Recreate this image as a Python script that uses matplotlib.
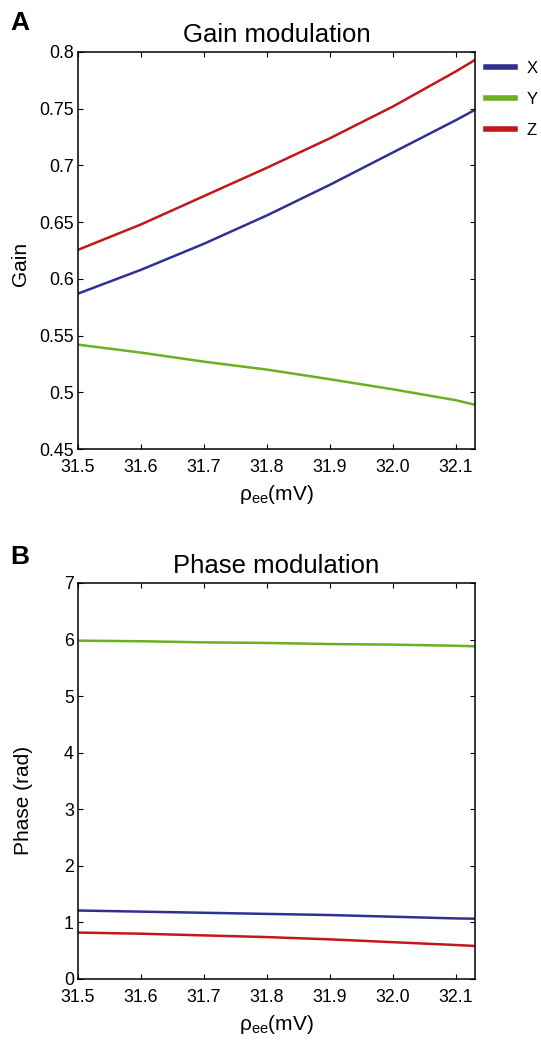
import matplotlib.pyplot as plt

plt.rcParams['font.family'] = ['Liberation Sans', 'DejaVu Sans']

# Data
rho = [31.5, 31.6, 31.7, 31.8, 31.9, 32.0, 32.1, 32.13]
gain_x = [0.587, 0.608, 0.631, 0.656, 0.683, 0.7115, 0.740, 0.749]
gain_y = [0.542, 0.535, 0.527, 0.520, 0.5115, 0.5026, 0.493, 0.489]
gain_z = [0.6256, 0.648, 0.673, 0.698, 0.724, 0.752, 0.783, 0.793]
phase_x = [1.21, 1.19, 1.17, 1.15, 1.13, 1.10, 1.07, 1.065]
phase_y = [5.98, 5.97, 5.95, 5.94, 5.92, 5.91, 5.89, 5.88]
phase_z = [0.82, 0.80, 0.77, 0.74, 0.70, 0.65, 0.60, 0.583]

labels = ['X', 'Y', 'Z']
colors = ['#2e3192', '#6ab023', '#c4161c']

xticks = [31.5, 31.6, 31.7, 31.8, 31.9, 32.0, 32.1]
gain_ticks = [0.45, 0.5, 0.55, 0.6, 0.65, 0.7, 0.75, 0.8]
gain_ticklabels = ['0.45', '0.5', '0.55', '0.6', '0.65', '0.7', '0.75', '0.8']
phase_ticks = [0, 1, 2, 3, 4, 5, 6, 7]

fig = plt.figure(figsize=(5.41, 10.44), dpi=100)
axA = fig.add_axes([0.1442, 0.5699, 0.7338, 0.3803])
axB = fig.add_axes([0.1442, 0.0623, 0.7338, 0.3793])

for ax, series in [(axA, [gain_x, gain_y, gain_z]), (axB, [phase_x, phase_y, phase_z])]:
    for vals, lab, col in zip(series, labels, colors):
        ax.plot(rho, vals, color=col, lw=1.8, label=lab)
    ax.set_xlim(31.5, 32.13)
    ax.set_xticks(xticks)
    ax.set_xticklabels([f'{t:.1f}' for t in xticks])
    ax.tick_params(direction='in', top=True, right=True, length=3.5, width=0.8,
                   labelsize=12.8)
    ax.tick_params(axis='x', pad=7.5)
    ax.tick_params(axis='y', pad=3)
    for s in ax.spines.values():
        s.set_linewidth(1.1)
    ax.set_xlabel(r'$\mathregular{ρ_{ee}}$(mV)', fontsize=15, labelpad=5)

axA.set_ylim(0.45, 0.8)
axA.set_yticks(gain_ticks)
axA.set_yticklabels(gain_ticklabels)
axA.set_ylabel('Gain', fontsize=15)
axA.yaxis.set_label_coords(-0.121, 0.465)
axA.set_title('Gain modulation', fontsize=18.5, pad=7)

axB.set_ylim(0, 7)
axB.set_yticks(phase_ticks)
axB.set_ylabel('Phase (rad)', fontsize=15)
axB.yaxis.set_label_coords(-0.113, 0.45)
axB.set_title('Phase modulation', fontsize=18.5, pad=7)

handles, labs = axA.get_legend_handles_labels()
leg = fig.legend(handles, labs, loc='upper left',
                 bbox_to_anchor=(486 / 541, 1 - 61 / 1044),
                 bbox_transform=fig.transFigure, frameon=False,
                 fontsize=12, handlelength=1.75, handletextpad=0.66,
                 labelspacing=0.95, borderpad=0, borderaxespad=0)
for h in leg.get_lines():
    h.set_linewidth(4)

fig.text(0.0185, 0.9777, 'A', fontsize=19, fontweight='bold', va='center')
fig.text(0.0185, 0.466, 'B', fontsize=19, fontweight='bold', va='center')

fig.savefig('out.png', dpi=100)
